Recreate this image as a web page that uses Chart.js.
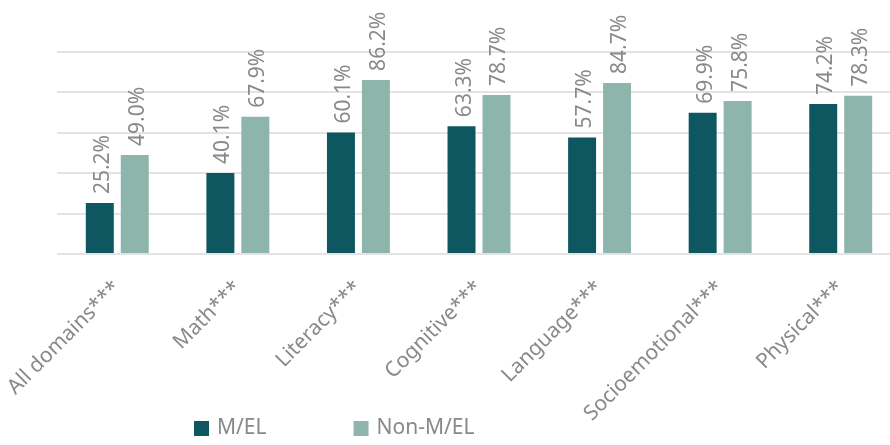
<!DOCTYPE html>
<html>
<head>
<meta charset="utf-8">
<script src="https://cdn.jsdelivr.net/npm/chart.js@4/dist/chart.umd.min.js"></script>
<style>
  html, body { margin: 0; padding: 0; background: #ffffff; overflow: hidden; width: 890px; height: 445px; }
  #wrap { width: 901px; height: 445px; }
</style>
</head>
<body>
<div id="wrap"><canvas id="c" width="901" height="445"></canvas></div>
<script>
const categories = ['All domains***', 'Math***', 'Literacy***', 'Cognitive***', 'Language***', 'Socioemotional***', 'Physical***'];
const melValues = [25.2, 40.1, 60.1, 63.3, 57.7, 69.9, 74.2];
const nonMelValues = [49.0, 67.9, 86.2, 78.7, 84.7, 75.8, 78.3];
const seriesNames = ['M/EL', 'Non-M/EL'];
const yTicks = [0, 20, 40, 60, 80, 100];

const FONT = '"Noto Sans", "Open Sans", sans-serif';
const GRAY = '#898989';

const valueLabels = {
  id: 'valueLabels',
  afterDatasetsDraw(chart) {
    const ctx = chart.ctx;
    ctx.save();
    ctx.font = '21px ' + FONT;
    ctx.fillStyle = GRAY;
    ctx.textAlign = 'left';
    ctx.textBaseline = 'middle';
    chart.data.datasets.forEach((ds, di) => {
      const meta = chart.getDatasetMeta(di);
      meta.data.forEach((bar, i) => {
        ctx.save();
        ctx.translate(bar.x + 3, bar.y - 9);
        ctx.rotate(-Math.PI / 2);
        ctx.fillText(ds.data[i].toFixed(1) + '%', 0, 0);
        ctx.restore();
      });
    });
    ctx.restore();
  }
};

const customLegend = {
  id: 'customLegend',
  afterDraw(chart) {
    const ctx = chart.ctx;
    ctx.save();
    ctx.font = '21px ' + FONT;
    ctx.textBaseline = 'middle';
    ctx.textAlign = 'left';
    let x = 194;
    const boxTop = 421;
    const box = 15;
    chart.data.datasets.forEach((ds) => {
      ctx.fillStyle = ds.backgroundColor;
      ctx.fillRect(x, boxTop, box, box);
      ctx.fillStyle = GRAY;
      ctx.fillText(ds.label, x + box + 8, boxTop + box / 2);
      x += box + 8 + ctx.measureText(ds.label).width + 87;
    });
    ctx.restore();
  }
};

new Chart(document.getElementById('c'), {
  type: 'bar',
  data: {
    labels: categories,
    datasets: [
      { label: seriesNames[0], data: melValues, backgroundColor: '#0f5760', categoryPercentage: 0.58, barPercentage: 0.8 },
      { label: seriesNames[1], data: nonMelValues, backgroundColor: '#8db5ab', categoryPercentage: 0.58, barPercentage: 0.8 }
    ]
  },
  options: {
    responsive: false,
    animation: false,
    devicePixelRatio: 1,
    layout: { padding: { top: 52, left: 57, right: 0, bottom: 0 } },
    plugins: { legend: { display: false }, tooltip: { enabled: false } },
    scales: {
      x: {
        grid: { display: false },
        border: { display: false },
        ticks: {
          autoSkip: false,
          minRotation: 45,
          maxRotation: 45,
          padding: 14,
          color: GRAY,
          font: { family: FONT, size: 21 }
        },
        afterFit(scale) { scale.height = 191; scale.paddingLeft = 0; scale.paddingRight = 0; }
      },
      y: {
        min: 0,
        max: 100,
        afterBuildTicks(scale) { scale.ticks = yTicks.map(v => ({ value: v })); },
        afterFit(scale) { scale.width = 0; },
        grid: { color: '#e3e3e3', lineWidth: 2, drawTicks: false },
        border: { display: false },
        ticks: { display: false }
      }
    }
  },
  plugins: [valueLabels, customLegend]
});
</script>
</body>
</html>
